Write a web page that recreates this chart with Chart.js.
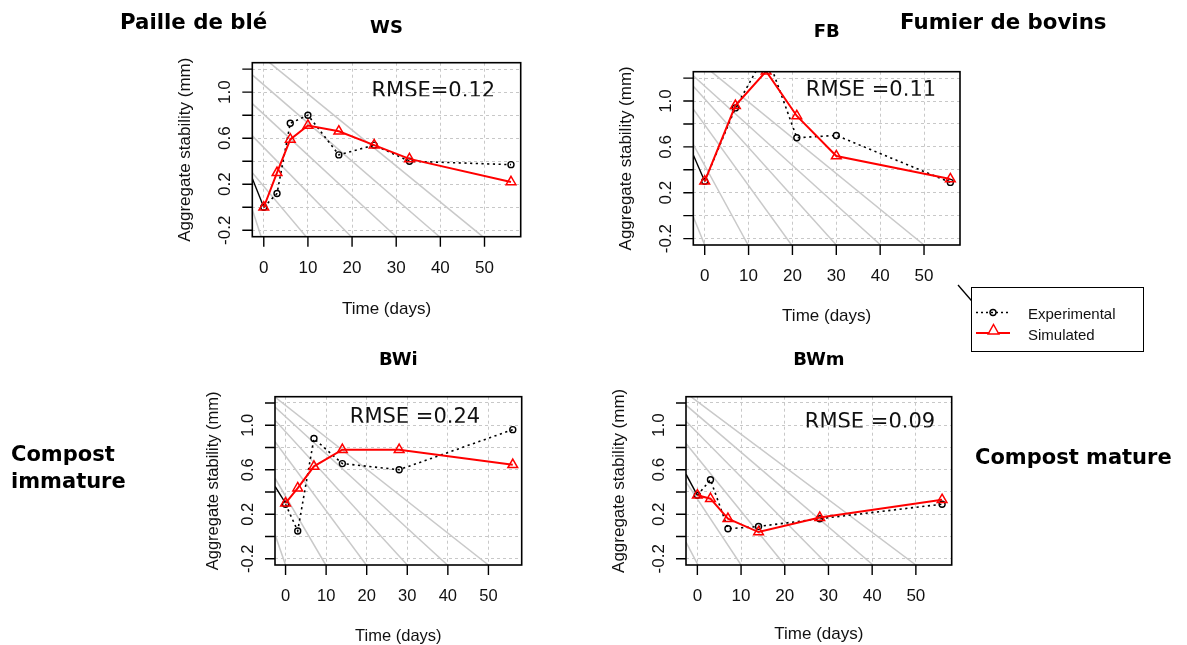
<!DOCTYPE html>
<html>
<head>
<meta charset="utf-8">
<script src="https://cdn.jsdelivr.net/npm/chart.js@4"></script>
<style>
html,body{margin:0;padding:0;background:#fff;}
body{width:1187px;height:645px;position:relative;overflow:hidden;}
canvas.panel{position:absolute;left:0;top:0;}
.big{position:absolute;font-family:"DejaVu Sans",sans-serif;font-weight:bold;color:#000;white-space:nowrap;line-height:1;}
#legend{position:absolute;left:971px;top:287px;width:173px;height:65px;border:1px solid #000;box-sizing:border-box;background:#fff;}
#legend span{position:absolute;left:56px;font-family:"Liberation Sans",Arial,sans-serif;font-size:15px;line-height:1;color:#111;}
</style>
</head>
<body>
<canvas id="cWS" class="panel" width="1187" height="645"></canvas>
<canvas id="cFB" class="panel" width="1187" height="645"></canvas>
<canvas id="cBWi" class="panel" width="1187" height="645"></canvas>
<canvas id="cBWm" class="panel" width="1187" height="645"></canvas>

<div class="big" style="left:120px;top:11px;font-size:21.3px;">Paille de blé</div>
<div class="big" style="left:900px;top:11px;font-size:21.3px;">Fumier de bovins</div>
<div class="big" style="left:11px;top:444px;font-size:21px;">Compost</div>
<div class="big" style="left:11px;top:470.5px;font-size:21px;">immature</div>
<div class="big" style="left:975px;top:446.5px;font-size:21px;">Compost mature</div>

<svg width="1187" height="645" style="position:absolute;left:0;top:0;pointer-events:none;">
  <line x1="958" y1="285" x2="977" y2="307" stroke="#000" stroke-width="1.3"/>
</svg>
<div id="legend">
  <svg width="173" height="65" style="position:absolute;left:-1px;top:-1px;">
    <line x1="5" y1="25.5" x2="38" y2="25.5" stroke="#000" stroke-width="1.5" stroke-dasharray="2 3"/>
    <circle cx="22" cy="25.5" r="3" fill="none" stroke="#000" stroke-width="1.4"/>
    <line x1="5" y1="46" x2="39" y2="46" stroke="#ff0000" stroke-width="2"/>
    <polygon points="22.5,37.5 27.8,47 17.2,47" fill="#fff" stroke="#ff0000" stroke-width="1.5"/>
  </svg>
  <span style="top:17.5px;">Experimental</span>
  <span style="top:38.5px;">Simulated</span>
</div>

<script>
// ---------- data ----------
const xTicks = [0, 10, 20, 30, 40, 50];
const yTicks = [-0.2, 0, 0.2, 0.4, 0.6, 0.8, 1.0, 1.2];
const yLabelValues = [-0.2, 0.2, 0.6, 1.0];
const yLabelTexts = ['-0.2', '0.2', '0.6', '1.0'];

const wsDays = [0, 3, 6, 10, 17, 25, 33, 56];
const wsExp  = [0.00, 0.12, 0.73, 0.80, 0.455, 0.54, 0.40, 0.37];
const wsSim  = [0.00, 0.30, 0.59, 0.71, 0.66, 0.54, 0.42, 0.22];

const fbDays = [0, 7, 14, 21, 30, 56];
const fbExp  = [0.30, 0.94, 1.42, 0.68, 0.70, 0.29];
const fbSim  = [0.30, 0.96, 1.26, 0.87, 0.52, 0.32];

const bwiDays = [0, 3, 7, 14, 28, 56];
const bwiExp  = [0.29, 0.05, 0.88, 0.655, 0.60, 0.96];
const bwiSim  = [0.30, 0.435, 0.63, 0.78, 0.78, 0.645];

const bwmDays = [0, 3, 7, 14, 28, 56];
const bwmExp  = [0.37, 0.51, 0.07, 0.09, 0.16, 0.29];
const bwmSim  = [0.37, 0.34, 0.16, 0.04, 0.17, 0.33];

// short black solid segment at left of each panel  [x0, y0, x1, y1]
const wsLead  = [-2.6, 0.25, 0, 0.00];
const fbLead  = [-2.6, 0.53, 0, 0.30];
const bwiLead = [-2.6, 0.45, 0, 0.30];
const bwmLead = [-2.6, 0.56, 0, 0.37];

// grey reference lines [x0, y0, x1, y1]
const wsGuides = [[1.3, 1.256, 49.6, -0.256], [-2.6, 1.15, 39.8, -0.256], [-2.6, 0.90, 30.0, -0.256],
                  [-2.6, 0.62, 19.8, -0.256], [-2.6, 0.30, 9.6, -0.256], [-2.6, -0.02, -0.6, -0.256]];
const fbGuides = [[1.5, 1.256, 50.0, -0.256], [-2.6, 1.22, 40.1, -0.256], [-2.6, 1.13, 30.0, -0.256],
                  [-2.6, 0.93, 19.8, -0.256], [-2.6, 0.62, 9.9, -0.256], [-2.6, -0.01, 0.0, -0.256]];
const bwiGuides = [[-2.6, 1.253, 50.0, -0.256], [-2.6, 1.164, 39.9, -0.256], [-2.6, 1.045, 30.0, -0.256],
                   [-2.6, 0.851, 19.9, -0.256], [-2.6, 0.524, 9.9, -0.256], [-2.6, 0.017, 0.0, -0.256]];
const bwmGuides = [[-1.5, 1.256, 50.0, -0.256], [-2.6, 1.18, 40.2, -0.256], [-2.6, 1.036, 29.9, -0.256],
                   [-2.6, 0.835, 20.0, -0.256], [-2.6, 0.49, 10.0, -0.256], [-2.6, -0.05, 0.15, -0.256]];

const xMin = -2.6, xMax = 58.2, yMin = -0.256, yMax = 1.256;

// ---------- layout (pixels) ----------
const panels = [
  {id:'cWS', title:'WS', rmse:'RMSE=0.12', rmseX:38.4, rmseY:0.961, area:{l:252.3, r:520.7, t:62.7, b:236.7},
   titleOff:34.3, xTitleOff:72.3, yTitleOff:67.3, fs:17,
   days:wsDays, exp:wsExp, sim:wsSim, lead:wsLead, guides:wsGuides},
  {id:'cFB', title:'FB', rmse:'RMSE =0.11', rmseX:37.9, rmseY:1.041, area:{l:693.3, r:960, t:71.7, b:245},
   titleOff:39.5, xTitleOff:71.5, yTitleOff:66.8, fs:17,
   days:fbDays, exp:fbExp, sim:fbSim, lead:fbLead, guides:fbGuides},
  {id:'cBWi', title:'BWi', rmse:'RMSE =0.24', rmseX:31.9, rmseY:1.017, area:{l:275, r:521.7, t:396.7, b:565},
   titleOff:36.7, xTitleOff:71, yTitleOff:61.7, fs:16.5,
   days:bwiDays, exp:bwiExp, sim:bwiSim, lead:bwiLead, guides:bwiGuides},
  {id:'cBWm', title:'BWm', rmse:'RMSE =0.09', rmseX:39.5, rmseY:0.975, area:{l:686, r:951.7, t:396.7, b:565},
   titleOff:36.7, xTitleOff:69, yTitleOff:67, fs:17,
   days:bwmDays, exp:bwmExp, sim:bwmSim, lead:bwmLead, guides:bwmGuides}
];

function rAxes(p) {
  return {
    id: 'raxes_' + p.id,
    afterDraw(chart) {
      const ctx = chart.ctx, a = chart.chartArea, x = chart.scales.x, y = chart.scales.y;
      ctx.save();
      // RMSE text (clipped at its baseline like the original)
      const bx = x.getPixelForValue(p.rmseX), by = y.getPixelForValue(p.rmseY);
      ctx.save();
      ctx.beginPath();
      ctx.rect(a.left, a.top, a.right - a.left, by - a.top - 0.5);
      ctx.clip();
      ctx.fillStyle = '#111';
      ctx.font = '21px "DejaVu Sans", sans-serif';
      ctx.textAlign = 'center';
      ctx.textBaseline = 'alphabetic';
      ctx.fillText(p.rmse, bx, by);
      ctx.restore();
      // box
      ctx.strokeStyle = '#000';
      ctx.lineWidth = 1.6;
      ctx.strokeRect(a.left, a.top, a.right - a.left, a.bottom - a.top);
      // ticks
      ctx.lineWidth = 1.4;
      ctx.beginPath();
      xTicks.forEach(v => { const px = x.getPixelForValue(v); ctx.moveTo(px, a.bottom); ctx.lineTo(px, a.bottom + 10); });
      yTicks.forEach(v => { const py = y.getPixelForValue(v); ctx.moveTo(a.left, py); ctx.lineTo(a.left - 10, py); });
      ctx.stroke();
      // tick labels
      ctx.fillStyle = '#111';
      ctx.font = p.fs + 'px "Liberation Sans", Arial, sans-serif';
      ctx.textAlign = 'center';
      ctx.textBaseline = 'middle';
      xTicks.forEach(v => ctx.fillText(String(v), x.getPixelForValue(v), a.bottom + 31.8));
      yLabelValues.forEach((v, i) => {
        ctx.save();
        ctx.translate(a.left - 26.5, y.getPixelForValue(v));
        ctx.rotate(-Math.PI / 2);
        ctx.fillText(yLabelTexts[i], 0, 0);
        ctx.restore();
      });
      // axis titles
      const cx = (a.left + a.right) / 2, cy = (a.top + a.bottom) / 2;
      ctx.fillText('Time (days)', cx, a.bottom + p.xTitleOff);
      ctx.save();
      ctx.translate(a.left - p.yTitleOff, cy);
      ctx.rotate(-Math.PI / 2);
      ctx.fillText('Aggregate stability (mm)', 0, 0);
      ctx.restore();
      // panel title
      ctx.fillStyle = '#000';
      ctx.font = 'bold 18px "DejaVu Sans", sans-serif';
      ctx.fillText(p.title, cx, a.top - p.titleOff);
      ctx.restore();
    }
  };
}

function pts(xs, ys) { return xs.map((d, i) => ({x: d, y: ys[i]})); }

panels.forEach(p => {
  const datasets = [];
  datasets.push({
    label: 'Simulated', data: pts(p.days, p.sim), showLine: true,
    borderColor: '#ff0000', borderWidth: 2, pointStyle: 'triangle', pointRadius: 5.6,
    pointBorderColor: '#ff0000', pointBackgroundColor: 'rgba(255,255,255,0)', pointBorderWidth: 1.5,
    order: 1, clip: 0
  });
  datasets.push({
    label: 'Experimental', data: pts(p.days, p.exp), showLine: true,
    borderColor: '#000', borderWidth: 1.6, borderDash: [2.2, 3.5], pointStyle: 'circle', pointRadius: 3,
    pointBorderColor: '#000', pointBackgroundColor: 'rgba(255,255,255,0)', pointBorderWidth: 1.4,
    order: 2, clip: 0
  });
  datasets.push({
    label: 'lead', data: [{x: p.lead[0], y: p.lead[1]}, {x: p.lead[2], y: p.lead[3]}], showLine: true,
    borderColor: '#000', borderWidth: 1.4, pointRadius: 0, order: 3, clip: 0
  });
  p.guides.forEach((g, k) => datasets.push({
    label: 'guide' + k, data: [{x: g[0], y: g[1]}, {x: g[2], y: g[3]}], showLine: true,
    borderColor: '#c9c9c9', borderWidth: 1.5, pointRadius: 0, order: 4, clip: 0
  }));

  new Chart(document.getElementById(p.id), {
    type: 'scatter',
    data: { datasets },
    options: {
      responsive: false, animation: false, events: [],
      layout: { padding: { left: p.area.l, top: p.area.t, right: 1187 - p.area.r, bottom: 645 - p.area.b } },
      plugins: { legend: { display: false }, tooltip: { enabled: false }, title: { display: false } },
      elements: { line: { tension: 0 } },
      scales: {
        x: {
          type: 'linear', position: 'bottom', min: xMin, max: xMax,
          afterBuildTicks: s => { s.ticks = xTicks.map(v => ({value: v})); },
          afterFit: s => { s.height = 0; },
          ticks: { display: false },
          grid: { color: '#c8c8c8', lineWidth: 1, drawTicks: false },
          border: { display: false, dash: [3, 3] }
        },
        y: {
          type: 'linear', position: 'left', min: yMin, max: yMax,
          afterBuildTicks: s => { s.ticks = yTicks.map(v => ({value: v})); },
          afterFit: s => { s.width = 0; },
          ticks: { display: false },
          grid: { color: '#c8c8c8', lineWidth: 1, drawTicks: false },
          border: { display: false, dash: [3, 3] }
        }
      }
    },
    plugins: [rAxes(p)]
  });
});
</script>
</body>
</html>
